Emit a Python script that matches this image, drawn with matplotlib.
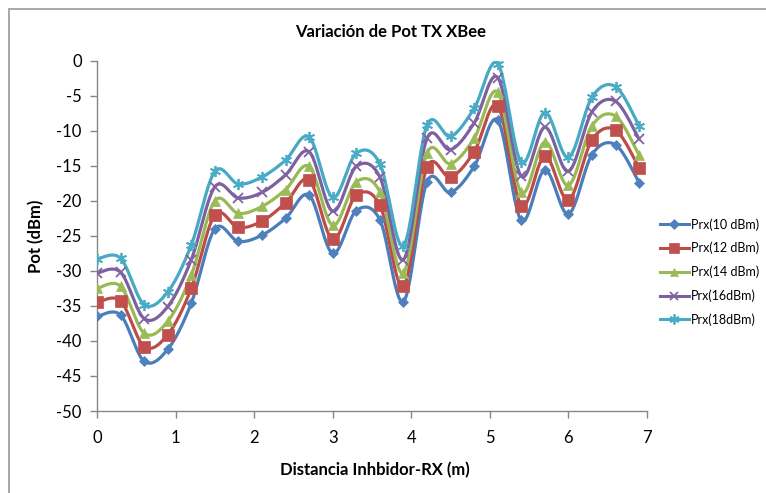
import numpy as np
import matplotlib
matplotlib.use("Agg")
import matplotlib.pyplot as plt
from matplotlib.lines import Line2D
from matplotlib.patches import Rectangle

plt.rcParams['font.family'] = ['Lato', 'DejaVu Sans']

# Distance from the jammer to the receiver (m)
distancia = [0.0, 0.3, 0.6, 0.9, 1.2, 1.5, 1.8, 2.1, 2.4, 2.7, 3.0, 3.3,
             3.6, 3.9, 4.2, 4.5, 4.8, 5.1, 5.4, 5.7, 6.0, 6.3, 6.6, 6.9]

# Received power (dBm) for each transmit power
prx_10 = [-36.5, -36.3, -42.9, -41.2, -34.6, -24.0, -25.8, -24.9, -22.5, -19.2, -27.5, -21.4,
          -22.7, -34.4, -17.3, -18.8, -15.1, -8.5, -22.8, -15.6, -21.9, -13.4, -12.0, -17.4]
prx_12 = [-34.5, -34.3, -40.8, -39.1, -32.5, -22.0, -23.8, -22.9, -20.3, -17.0, -25.5, -19.2,
          -20.6, -32.2, -15.2, -16.6, -13.0, -6.4, -20.7, -13.6, -19.9, -11.3, -9.9, -15.3]
prx_14 = [-32.5, -32.2, -38.9, -37.2, -30.6, -20.0, -21.8, -20.8, -18.4, -15.1, -23.5, -17.3,
          -18.7, -30.3, -13.2, -14.7, -11.1, -4.5, -18.8, -11.6, -17.8, -9.3, -7.9, -13.5]
prx_16 = [-30.3, -30.2, -36.8, -35.1, -28.4, -18.0, -19.6, -18.8, -16.3, -13.0, -21.5, -15.1,
          -16.6, -28.4, -11.1, -12.7, -8.9, -2.4, -16.5, -9.5, -15.8, -7.3, -5.8, -11.2]
prx_18 = [-28.3, -28.2, -34.8, -33.0, -26.3, -15.8, -17.6, -16.6, -14.2, -10.9, -19.5, -13.2,
          -14.7, -26.4, -9.2, -10.8, -6.8, -0.4, -14.5, -7.4, -13.8, -5.2, -3.7, -9.3]

series_labels = ['Prx(10 dBm)', 'Prx(12 dBm)', 'Prx(14 dBm)', 'Prx(16dBm)', 'Prx(18dBm)']
x_ticks = [0, 1, 2, 3, 4, 5, 6, 7]
y_ticks = [0, -5, -10, -15, -20, -25, -30, -35, -40, -45, -50]

line_colors = ['#4A7EBB', '#BE4B48', '#98B954', '#7D60A0', '#46AAC5']
marker_colors = ['#4F81BD', '#C0504D', '#9BBB59', '#8064A2', '#4BACC6']
markers = ['D', 's', '^', 'x', (6, 2, 0)]
marker_sizes = [5.5, 8, 7, 7, 8]


def smooth(x, y, n=40):
    """Cubic Bezier smoothing through every point (spreadsheet style)."""
    x = np.asarray(x, float)
    y = np.asarray(y, float)
    pts = np.column_stack([x, y])
    m = len(pts)
    out = []
    for i in range(m - 1):
        p0 = pts[i]
        p3 = pts[i + 1]
        prev = pts[i - 1] if i > 0 else pts[i]
        nxt = pts[i + 2] if i + 2 < m else pts[i + 1]
        c1 = p0 + (p3 - prev) / 6.0
        c2 = p3 - (nxt - p0) / 6.0
        t = np.linspace(0, 1, n, endpoint=(i == m - 2))[:, None]
        seg = ((1 - t) ** 3) * p0 + 3 * ((1 - t) ** 2) * t * c1 + 3 * (1 - t) * t ** 2 * c2 + t ** 3 * p3
        out.append(seg)
    out = np.vstack(out)
    return out[:, 0], out[:, 1]


fig = plt.figure(figsize=(7.66, 4.93), dpi=100)
ax = fig.add_axes([97 / 766, 1 - 411 / 493, 550 / 766, (411 - 60.7) / 493])

all_series = [prx_10, prx_12, prx_14, prx_16, prx_18]
handles = []
for vals, lc, mc, mk, ms, lab in zip(all_series, line_colors, marker_colors, markers, marker_sizes, series_labels):
    sx, sy = smooth(distancia, vals)
    ax.plot(sx, sy, color=lc, lw=2.3, solid_capstyle='round', zorder=2)
    mew = 1.3 if mk in ('x', (6, 2, 0)) else 0.5
    ax.plot(distancia, vals, linestyle='none', marker=mk, markersize=ms,
            color=mc, markeredgecolor=mc, markeredgewidth=mew, zorder=3)
    handles.append(Line2D([0], [0], color=lc, lw=2.2, marker=mk, markersize=ms * 0.9,
                          markerfacecolor=mc, markeredgecolor=mc, markeredgewidth=mew, label=lab))

ax.set_xlim(0, 7)
ax.set_ylim(-50, 0)
ax.set_xticks(x_ticks)
ax.set_yticks(y_ticks)
ax.set_xticklabels([str(v) for v in x_ticks])
ax.set_yticklabels([str(v) for v in y_ticks])
for side in ('top', 'right'):
    ax.spines[side].set_visible(False)
for side in ('left', 'bottom'):
    ax.spines[side].set_color('#868686')
    ax.spines[side].set_linewidth(1.0)
ax.tick_params(axis='both', direction='out', length=5, width=1.0, color='#868686',
               labelsize=12, labelcolor='#000000')
ax.tick_params(axis='x', pad=9)
ax.tick_params(axis='y', pad=6)

fig.text(391 / 766, 1 - 32 / 493, 'Variación de Pot TX XBee', ha='center', va='center',
         fontsize=12, fontweight='bold')
fig.text(375 / 766, 1 - 470 / 493, 'Distancia Inhbidor-RX (m)', ha='center', va='center',
         fontsize=12, fontweight='bold')
fig.text(36 / 766, 1 - 236 / 493, 'Pot (dBm)', ha='center', va='center', rotation=90,
         fontsize=12, fontweight='bold')

leg = fig.legend(handles=handles, loc='upper left', bbox_to_anchor=(660 / 766, 1 - 218 / 493),
                 frameon=False, fontsize=9, handlelength=2.3, handletextpad=0.2,
                 labelspacing=0.9, borderaxespad=0, borderpad=0)

fig.patches.append(Rectangle((8.5 / 766, -0.05), 1.2, 1 - 9 / 493 + 0.05, transform=fig.transFigure,
                             fill=False, edgecolor='#A0A0A0', lw=1.3))

fig.savefig('out.png', dpi=100)
